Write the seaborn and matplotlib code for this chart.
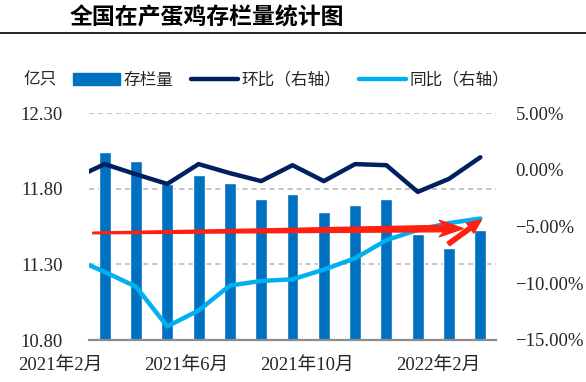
"""
全国在产蛋鸡存栏量统计图 - stock bars with MoM / YoY lines
"""

import numpy as np
import matplotlib.pyplot as plt
import pandas as pd
import seaborn as sns
from matplotlib.patches import Patch
from matplotlib.lines import Line2D
from matplotlib.ticker import FuncFormatter

sns.set_style("white")
plt.rcParams['font.family'] = ['Liberation Serif', 'Noto Sans CJK SC', 'DejaVu Sans']
plt.rcParams['axes.unicode_minus'] = False

# data (Feb 2021 - Mar 2022); Feb 2021 bar not shown in the source chart
months = ["2021-02", "2021-03", "2021-04", "2021-05", "2021-06", "2021-07", "2021-08",
          "2021-09", "2021-10", "2021-11", "2021-12", "2022-01", "2022-02", "2022-03"]
stock = [np.nan, 12.04, 11.985, 11.83, 11.89, 11.84, 11.73, 11.765, 11.645, 11.69,
         11.73, 11.50, 11.41, 11.53]          # 亿只
mom = [-0.8, 0.5, -0.4, -1.25, 0.5, -0.3, -1.0, 0.4, -1.0, 0.5, 0.4, -1.95, -0.8, 1.1]   # 环比 %
yoy = [-7.8, -9.0, -10.3, -13.8, -12.4, -10.2, -9.8, -9.65, -8.8, -7.8, -6.2, -5.3, -4.7, -4.3]  # 同比 %
tick_labels = ["2021年2月", "2021年6月", "2021年10月", "2022年2月"]
tick_pos = [-0.41, 3.62, 7.46, 11.66]

df = pd.DataFrame({"pos": np.arange(len(months)), "month": months,
                   "stock": stock, "mom": mom, "yoy": yoy})

bar_c = "#0070C0"
mom_c = "#002060"
yoy_c = "#00B0F0"
txt_c = "#262626"

fig = plt.figure(figsize=(5.86, 3.82), dpi=100)
ax = fig.add_axes([89/586, 42/382, 407/586, 227/382])

sns.barplot(data=df, x="pos", y="stock", native_scale=True, width=0.38,
            color=bar_c, saturation=1, errorbar=None, ax=ax, zorder=2)
ax.set_xlim(0.5, 13.5)
ax.set_ylim(10.8, 12.3)
ax.set_yticks([10.8, 11.3, 11.8, 12.3])
ax.yaxis.set_major_formatter(FuncFormatter(lambda v, p: f"{v:.2f}"))
ax.set_xticks([])
ax.set_xlabel("")
ax.set_ylabel("")
ax.yaxis.grid(True, ls=(0, (2.8, 2.2)), color="#BFBFBF", lw=1.3)
ax.set_axisbelow(True)
ax.tick_params(axis="y", length=0, pad=19, labelsize=13.5, labelcolor=txt_c)
for s in ["top", "left", "right"]:
    ax.spines[s].set_visible(False)
ax.spines["bottom"].set_color("#8C8C8C")
ax.spines["bottom"].set_linewidth(1.6)

for lab, p in zip(tick_labels, tick_pos):
    ax.text(p, -0.112, lab, transform=ax.get_xaxis_transform(), ha="center",
            va="center", fontsize=13.5, color=txt_c, clip_on=False)

ax2 = ax.twinx()
sns.lineplot(data=df, x="pos", y="mom", color=mom_c, lw=3.2, ax=ax2, legend=False)
sns.lineplot(data=df, x="pos", y="yoy", color=yoy_c, lw=3.2, ax=ax2, legend=False)
ax2.set_xlim(0.5, 13.5)
ax2.set_ylim(-15, 5)
ax2.set_yticks([-15, -10, -5, 0, 5])
ax2.yaxis.set_major_formatter(FuncFormatter(lambda v, p: f"{v:.2f}%".replace("-", "−")))
ax2.set_ylabel("")
ax2.grid(False)
ax2.tick_params(axis="y", length=0, pad=14, labelsize=13.5, labelcolor=txt_c)
for s in ["top", "left", "right", "bottom"]:
    ax2.spines[s].set_visible(False)

# red trend arrows (annotation)
arrow = [(0.62, -5.50), (11.85, -4.90), (11.68, -4.45), (12.46, -5.18),
         (11.68, -5.91), (11.85, -5.46), (0.62, -5.64)]
ax2.fill(*zip(*arrow), color="#FF2010", zorder=5, clip_on=False)
ax2.annotate("", xy=(13.03, -4.43), xytext=(11.98, -6.54),
             arrowprops=dict(arrowstyle="simple,head_length=0.9,head_width=0.8,tail_width=0.28",
                             mutation_scale=11, color="#FF2010", shrinkA=0, shrinkB=0),
             zorder=5)

# title and rule
fig.text(70/586, 1 - 18/382, "全国在产蛋鸡存栏量统计图", fontsize=16.5, fontweight="bold",
         family=["Noto Sans CJK SC"], ha="left", va="center", color="black")
fig.add_artist(Line2D([0, 1], [1 - 33/382, 1 - 33/382], color="black", lw=1.2))

# legend
fig.text(23/586, 1 - 80/382, "亿只", fontsize=12, family=["Noto Sans CJK SC"],
         ha="left", va="center", color=txt_c)
handles = [Patch(color=bar_c), Line2D([], [], color=mom_c, lw=3.2),
           Line2D([], [], color=yoy_c, lw=3.2)]
fig.legend(handles, ["存栏量", "环比（右轴）", "同比（右轴）"], ncol=3, frameon=False,
           loc="center left", bbox_to_anchor=(73/586, 1 - 80/382), borderpad=0,
           borderaxespad=0, handlelength=2.8, handletextpad=0.2, columnspacing=1.1,
           prop={"family": ["Noto Sans CJK SC"], "size": 12})

plt.savefig("out.png", dpi=100)
